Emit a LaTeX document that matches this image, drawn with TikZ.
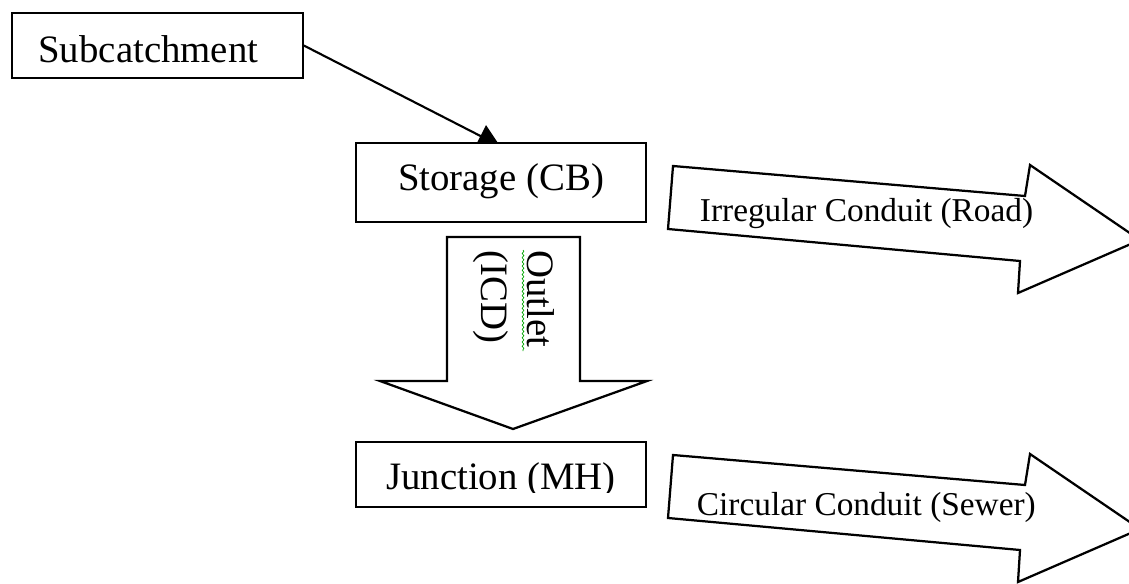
\documentclass[tikz,border=0pt]{standalone}
\usepackage{fontspec}
\setmainfont{Liberation Serif}
\usetikzlibrary{arrows.meta,decorations.pathmorphing}

\newcommand{\boxfont}{\fontsize{27.6}{33.1}\selectfont}
\newcommand{\pipefont}{\fontsize{23.7}{28.4}\selectfont}

\begin{document}
\begin{tikzpicture}[x=0.025cm, y=-0.025cm,
    box/.style={draw, line width=1.6pt, fill=white, font=\boxfont,
      minimum width=206.5pt, inner ysep=0pt},
    blockarrow/.style={draw, line width=1.6pt, fill=white, line join=miter},
    flow/.style={line width=1.5pt, -{Triangle[length=15.6pt, width=17pt]}},
    spellmark/.style={draw=green!65!black, line width=0.5pt, decorate,
      decoration={snake, amplitude=0.6pt, segment length=3pt}}]
        \useasboundingbox (0,0) rectangle (1129,584);
        \clip (0,0) rectangle (1129,584);

        % runoff source and catch basin
        \node [box, minimum height=46.1pt, text width=169.4pt, inner xsep=18.4pt,
          align=left, text height=24.8pt, text depth=0pt] (sub) at (157.5,45.5)
          {Subcatchment};
        \coordinate (inflow) at (500,146);
        \draw [flow] (sub.east) -- (inflow);
        \node [box, minimum height=56pt, text height=12pt, text depth=0pt]
          (storage) at (501,182.5) {Storage (CB)};

        % outlet down to the manhole
        \draw [blockarrow] (447,237) -- (580,237) -- (580,381) -- (647,381)
          -- (513,429) -- (380,381) -- (447,381) -- cycle;
        \node [font=\boxfont, rotate=-90, align=left, inner sep=0pt,
          anchor=north west] (outlet) at (555,250) {Outlet\\(ICD)};
        \draw [spellmark] (523,250) -- (523,351);

        \node [box, minimum height=46.1pt] (junction) at (501,474.5) {};
        \begin{scope}
          \clip (junction.north west) rectangle (647,492);
          \node [font=\boxfont, anchor=base] (junctext) at (501,489)
            {Junction (MH)};
        \end{scope}

        % conduits leaving the system
        \draw [blockarrow] (673,166) -- (1025,196) -- (1030,165) -- (1140,240)
          -- (1018,293) -- (1020,261) -- (668,229) -- cycle;
        \node [font=\pipefont, anchor=base west] (road) at (695,221)
          {Irregular Conduit (Road)};
        \draw [blockarrow] (673,455) -- (1025,485) -- (1030,454) -- (1140,529)
          -- (1018,582) -- (1020,550) -- (668,518) -- cycle;
        \node [font=\pipefont, anchor=base west] (sewer) at (692,515)
          {Circular Conduit (Sewer)};

\end{tikzpicture}
\end{document}
